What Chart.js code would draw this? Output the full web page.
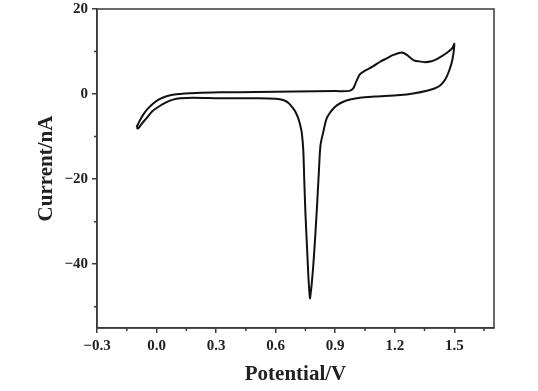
<!DOCTYPE html>
<html>
<head>
<meta charset="utf-8">
<script src="https://cdn.jsdelivr.net/npm/chart.js@4.4.1/dist/chart.umd.min.js"></script>
<style>
  html, body { margin: 0; padding: 0; background: #fff; }
  #wrap { width: 538px; height: 391px; }
</style>
</head>
<body>
<div id="wrap"><canvas id="cv"></canvas></div>
<script>
// Cyclic voltammogram, path order: forward scan then return scan
const potential = [
  -0.101, -0.085, -0.068, -0.045, -0.017, 0.015, 0.05, 0.1, 0.2, 0.32, 0.5, 0.7, 0.9, 0.97,
  0.99, 1.005, 1.025, 1.05, 1.09, 1.126, 1.16, 1.193, 1.236, 1.261, 1.294, 1.32, 1.353,
  1.385, 1.412, 1.44, 1.463, 1.49, 1.5,
  1.49, 1.475, 1.455, 1.43, 1.40, 1.362, 1.3, 1.227, 1.1, 1.025, 0.975, 0.941, 0.91, 0.891,
  0.872, 0.857, 0.848, 0.84, 0.826, 0.818, 0.81, 0.8, 0.79, 0.782, 0.776, 0.773,
  0.770, 0.765, 0.758, 0.75, 0.744, 0.739, 0.731, 0.722, 0.714, 0.70, 0.689, 0.665, 0.638,
  0.6, 0.5, 0.32, 0.184, 0.12, 0.083, 0.05, 0.016, -0.02, -0.051, -0.075, -0.093, -0.101
];
const current = [
  -7.8, -6.3, -4.9, -3.5, -2.2, -1.2, -0.5, -0.05, 0.25, 0.4, 0.5, 0.6, 0.7, 0.75,
  1.3, 2.8, 4.7, 5.5, 6.5, 7.6, 8.4, 9.2, 9.8, 9.2, 8.0, 7.7, 7.5,
  7.7, 8.2, 9.0, 9.7, 10.8, 11.8,
  8.0, 5.6, 3.5, 2.1, 1.3, 0.78, 0.2, -0.24, -0.6, -0.87, -1.3, -1.8, -2.6, -3.4,
  -4.5, -5.7, -7.2, -8.9, -12, -18, -25, -33, -40, -44.5, -47, -48,
  -46.5, -43, -36, -28, -20, -13, -8.9, -7.0, -5.7, -4.2, -3.4, -2.1, -1.4,
  -1.1, -1.0, -1.0, -0.85, -1.0, -1.3, -1.9, -2.8, -4.0, -5.7, -7.0, -8.1, -7.8
];

const xTicks = [-0.3, 0.0, 0.3, 0.6, 0.9, 1.2, 1.5];
const xMinor = [-0.15, 0.15, 0.45, 0.75, 1.05, 1.35, 1.65];
const yTicks = [-40, -20, 0, 20];
const yMinor = [-50, -30, -10, 10];

const fmt = (v, d) => v.toFixed(d).replace('-', '\u2212');

// frame on all four sides + short minor ticks
const frame = {
  id: 'frame',
  afterDraw(chart) {
    const { ctx, chartArea: a, scales: { x, y } } = chart;
    ctx.save();
    ctx.strokeStyle = '#3a3a3a';
    ctx.lineWidth = 1.5;
    ctx.strokeRect(a.left, a.top, a.right - a.left, a.bottom - a.top);
    ctx.beginPath();
    xMinor.forEach(v => {
      const px = x.getPixelForValue(v);
      ctx.moveTo(px, a.bottom);
      ctx.lineTo(px, a.bottom + 3);
    });
    yMinor.forEach(v => {
      const py = y.getPixelForValue(v);
      ctx.moveTo(a.left, py);
      ctx.lineTo(a.left - 3, py);
    });
    ctx.stroke();
    ctx.restore();
  }
};

const font = 'Liberation Serif';

new Chart(document.getElementById('cv'), {
  type: 'scatter',
  data: {
    datasets: [{
      data: potential.map((p, i) => ({ x: p, y: current[i] })),
      showLine: true,
      borderColor: '#111',
      borderWidth: 2,
      pointRadius: 0,
      tension: 0.3,
      fill: false
    }]
  },
  options: {
    responsive: true,
    maintainAspectRatio: false,
    animation: false,
    layout: { padding: { top: 9, right: 44, left: 0, bottom: 0 } },
    plugins: { legend: { display: false }, tooltip: { enabled: false } },
    scales: {
      x: {
        type: 'linear',
        min: -0.3,
        max: 1.7,
        afterBuildTicks: s => { s.ticks = xTicks.map(v => ({ value: v })); },
        afterFit: s => { s.height = 63; s.paddingLeft = 0; s.paddingRight = 0; },
        grid: { drawOnChartArea: false, tickLength: 5, color: '#3a3a3a', lineWidth: 1.5 },
        border: { color: '#3a3a3a', width: 1.5 },
        ticks: {
          color: '#222',
          padding: 4,
          maxRotation: 0,
          font: { family: font, size: 15, weight: 'bold' },
          callback: v => fmt(v, 1)
        },
        title: {
          display: true,
          text: 'Potential/V',
          color: '#222',
          padding: { top: 8 },
          font: { family: font, size: 21, weight: 'bold' }
        }
      },
      y: {
        min: -55,
        max: 20,
        afterBuildTicks: s => { s.ticks = yTicks.map(v => ({ value: v })); },
        afterFit: s => { s.width = 97; s.paddingTop = 0; s.paddingBottom = 0; },
        grid: { drawOnChartArea: false, tickLength: 5, color: '#3a3a3a', lineWidth: 1.5 },
        border: { color: '#3a3a3a', width: 1.5 },
        ticks: {
          color: '#222',
          padding: 4,
          font: { family: font, size: 15, weight: 'bold' },
          callback: v => fmt(v, 0)
        },
        title: {
          display: true,
          text: 'Current/nA',
          color: '#222',
          padding: { top: 34, bottom: 4 },
          font: { family: font, size: 21, weight: 'bold' }
        }
      }
    }
  },
  plugins: [frame]
});
</script>
</body>
</html>
